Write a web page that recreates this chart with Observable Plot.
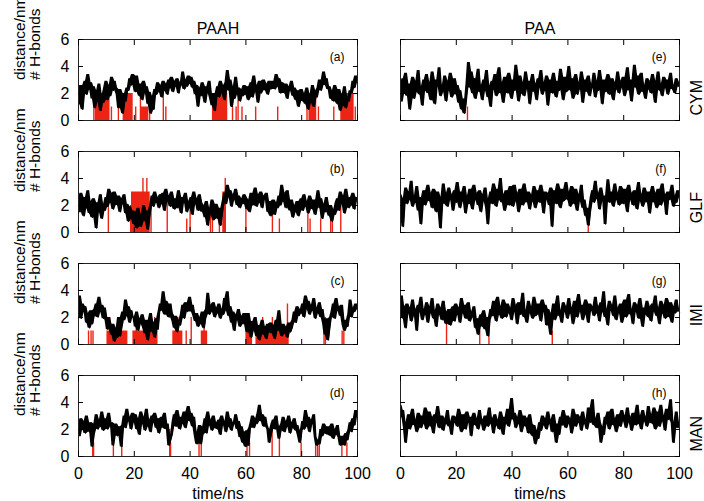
<!DOCTYPE html>
<html><head><meta charset="utf-8">
<script src="https://cdn.jsdelivr.net/npm/d3@7"></script>
<script src="https://cdn.jsdelivr.net/npm/@observablehq/plot@0.6"></script>
<style>body{margin:0;background:#fff;}</style>
</head><body><div id="chart"></div>
<script>
// ---- categories & ticks ----
const systems = ["PAAH", "PAA"];
const ligands = ["CYM", "GLF", "IMI", "MAN"];
const letters = ["(a)", "(b)", "(c)", "(d)", "(e)", "(f)", "(g)", "(h)"];
const xTicks = [0, 20, 40, 60, 80, 100];
const yTicks = [0, 2, 4, 6];
const xLabel = "time/ns";
const yLabel = "distance/nm\n# H-bonds";

// ---- distance series (nm), sampled every 0.5 ns from 0 to 100 ns ----
const distA = [
2.4,1.2,2.6,0.8,2.2,2.9,1.9,3.4,2.3,2.8,1.6,2.5,0.9,2.2,1.4,2.7,0.7,1.9,1.3,2.4,
2.9,1.5,2.6,1.8,3.2,2.2,2.9,2.4,1.9,0.9,2.3,1.2,0.5,2.0,1.4,2.4,2.2,3.1,2.6,3.4,
2.8,2.1,3.3,2.4,1.8,2.7,1.5,2.9,2.0,2.5,1.2,2.1,0.5,1.8,0.8,2.3,1.9,2.8,2.1,2.6,
1.7,2.9,2.2,2.7,1.9,3.0,2.4,3.2,2.1,2.9,2.5,3.1,2.0,2.8,2.6,3.6,2.3,3.0,2.5,3.3,
2.7,3.2,2.4,2.9,1.9,2.6,1.0,2.4,1.8,2.8,2.1,1.3,2.5,2.0,2.9,1.6,1.1,2.0,0.7,1.8,
2.5,1.7,2.9,2.0,2.6,1.5,2.8,3.7,2.2,3.0,1.0,2.5,1.6,3.2,1.9,2.4,1.4,2.3,1.8,2.6,
1.9,2.5,1.5,2.2,2.8,1.7,3.3,2.1,2.6,1.3,2.9,2.0,2.5,3.0,2.2,2.7,1.9,2.9,2.3,2.6,
2.9,2.3,3.4,2.5,3.1,2.0,2.8,2.4,2.0,2.7,1.6,2.5,2.2,2.9,1.8,2.4,1.5,2.2,1.0,1.9,
2.3,1.4,2.0,1.2,2.4,0.8,1.9,1.3,2.6,1.0,2.2,1.7,2.4,3.0,2.2,2.9,3.6,2.6,3.1,2.3,
2.5,1.6,2.2,1.4,2.6,1.8,1.2,2.3,0.7,1.9,1.1,2.5,0.9,1.7,1.4,2.2,2.0,2.9,2.4,3.3,2.8];
const distB = [
2.4,1.5,2.9,2.0,1.2,2.6,1.8,3.1,1.4,2.3,1.1,2.5,1.7,0.3,2.2,1.5,2.8,1.0,2.1,1.6,
2.6,1.9,3.2,2.2,2.9,1.7,3.0,2.4,2.0,2.7,1.5,2.5,2.1,2.8,1.4,2.1,0.8,1.9,1.0,1.6,
0.6,1.5,0.3,1.8,1.0,0.4,1.3,2.0,0.8,1.6,0.2,1.2,2.0,2.7,1.9,3.0,2.2,2.6,1.8,2.8,
2.1,2.9,1.6,3.2,2.3,2.7,1.9,3.0,2.4,1.7,2.5,1.8,3.1,2.0,1.4,2.6,2.2,2.9,1.5,2.3,
1.8,2.6,1.3,3.0,2.1,2.5,1.6,2.8,2.2,1.5,2.0,1.1,2.3,0.5,1.8,1.3,2.4,0.9,1.6,2.1,
1.0,1.8,0.5,1.4,2.3,2.9,2.1,3.5,2.6,3.1,1.9,2.8,2.4,3.2,2.0,2.7,1.8,2.5,2.1,2.8,
2.6,1.7,2.4,1.5,2.9,2.0,2.5,3.3,1.9,2.8,2.2,3.0,1.8,2.7,2.4,2.9,1.5,2.3,1.2,2.1,
2.4,1.3,2.2,1.8,2.7,2.0,3.5,2.3,2.9,1.8,3.1,2.2,1.6,2.4,1.1,2.0,1.5,2.3,1.2,2.1,
2.5,1.6,2.8,1.9,2.3,1.4,2.7,2.0,1.7,2.4,1.3,2.2,3.1,1.8,2.5,1.0,2.1,1.5,2.6,1.7,
1.2,2.0,0.8,1.7,1.3,2.2,2.5,1.6,3.0,2.1,2.7,1.4,3.2,2.3,1.8,2.6,2.0,2.9,1.7,2.4,2.6];
const distC = [
2.2,3.6,1.9,3.0,2.4,2.8,1.6,2.3,1.2,2.5,1.5,2.1,2.6,3.0,2.0,3.5,2.4,2.9,1.9,2.7,
1.8,1.1,2.0,1.3,0.7,1.5,0.2,1.2,0.5,2.0,0.6,1.3,2.4,1.8,3.3,2.1,2.8,1.6,2.5,2.0,
2.0,1.3,2.4,1.0,1.9,1.5,2.2,1.2,0.8,1.8,0.3,1.5,2.3,0.9,1.6,0.5,1.9,1.1,2.4,3.0,
2.5,3.9,2.2,3.2,2.6,2.0,3.0,2.3,1.7,1.2,2.1,0.9,1.8,1.4,2.2,2.9,1.9,3.1,2.4,2.7,
3.5,2.4,2.9,2.1,1.7,2.3,1.3,2.0,1.5,2.4,1.2,1.9,2.6,3.8,2.2,2.9,2.4,3.1,2.0,2.7,
2.3,3.0,1.9,2.6,2.2,3.4,2.5,3.9,2.1,2.8,1.6,2.4,1.0,2.2,1.8,2.6,1.3,2.1,1.5,2.3,
1.9,0.9,2.3,1.2,0.5,1.7,1.0,2.0,0.6,1.4,0.3,1.1,1.8,0.7,1.3,0.4,1.5,0.9,1.6,0.8,
1.4,0.4,1.8,1.0,2.5,1.1,0.6,1.5,0.8,1.3,0.5,1.6,0.9,1.2,1.8,2.4,1.6,2.8,2.1,2.6,
2.3,3.0,2.0,3.6,2.6,3.2,2.2,2.9,2.5,3.4,1.9,2.7,2.3,3.1,2.0,2.6,1.5,0.7,1.9,0.3,
1.2,2.0,2.4,3.0,1.9,3.4,2.5,2.8,2.1,2.9,1.4,1.0,1.8,1.3,2.2,3.3,2.0,2.7,2.4,3.0,2.6];
const distD = [
2.3,1.5,2.8,2.0,2.6,1.7,3.0,2.2,1.8,2.5,0.7,1.6,2.4,3.1,2.0,2.7,2.2,3.3,1.9,2.6,
2.8,2.0,3.2,2.2,2.5,0.8,1.9,2.4,1.5,2.2,1.8,0.7,2.3,3.0,2.1,3.5,2.6,2.9,2.0,3.2,
2.5,3.1,2.0,2.8,1.6,3.3,2.4,2.9,1.9,3.5,2.2,2.7,1.8,3.0,2.5,3.2,2.1,2.8,1.7,2.6,
2.9,2.1,3.2,2.0,2.4,0.8,1.2,1.6,2.5,3.1,2.2,3.4,2.6,2.0,2.9,2.4,3.3,2.1,2.8,3.7,
2.6,3.2,2.2,2.9,1.5,0.9,1.8,2.3,0.9,1.6,2.2,2.8,1.7,3.3,2.3,2.7,1.9,3.0,2.1,2.5,
2.0,2.7,1.6,3.0,2.3,2.6,1.8,3.3,2.2,2.8,1.9,2.5,2.4,3.1,2.0,2.6,1.4,2.2,1.0,1.8,
0.7,1.9,0.8,2.1,2.5,3.0,2.1,2.8,2.4,3.2,3.8,2.6,3.1,2.2,2.9,2.3,2.0,1.0,1.6,2.4,
2.7,2.0,3.0,2.2,1.3,1.9,2.4,2.9,1.8,2.6,2.2,3.0,1.7,2.5,2.1,2.8,1.9,2.3,1.5,1.0,
1.9,2.6,2.0,3.4,2.2,2.9,1.8,2.7,2.4,3.1,1.4,0.8,1.2,0.9,2.0,1.5,2.4,1.7,2.2,1.6,
2.2,1.5,2.4,1.3,2.0,1.6,2.3,1.4,0.8,1.5,1.1,0.8,1.7,1.2,1.9,2.5,1.8,2.8,2.3,3.4,2.9];
const distE = [
2.6,1.4,3.1,2.0,3.5,1.8,2.7,0.8,2.4,3.2,1.6,2.9,2.1,3.7,1.9,2.5,1.1,3.0,2.2,3.4,
2.0,2.8,1.5,3.6,2.3,1.2,3.0,2.5,3.9,1.8,2.6,2.1,3.3,1.4,2.9,2.2,3.5,1.7,2.7,3.1,
1.9,2.6,1.3,2.2,0.8,1.6,0.5,1.4,2.8,4.3,2.4,3.6,2.0,3.1,1.6,2.8,3.8,2.1,2.6,1.5,
3.0,2.2,3.7,1.7,2.6,1.0,2.9,2.3,3.4,1.8,2.5,3.9,2.0,2.8,1.3,3.2,2.4,2.0,3.5,2.6,
1.6,3.0,2.2,4.1,2.5,1.4,3.3,2.0,2.8,1.8,3.6,2.3,2.9,1.2,2.6,3.4,2.1,2.7,1.5,3.1,
2.4,3.7,1.9,2.8,2.2,3.3,1.1,2.6,3.0,2.0,3.5,2.4,1.7,2.9,2.2,3.8,2.5,1.5,3.2,2.1,
2.7,4.0,2.2,3.1,1.6,2.5,3.4,1.9,2.8,2.3,3.6,1.3,2.6,3.0,2.1,3.3,1.8,2.7,2.4,3.5,
1.7,2.9,2.2,3.7,2.5,1.2,3.0,2.1,2.7,3.4,1.9,2.6,3.1,1.5,2.8,2.3,3.6,2.0,2.9,2.4,
3.2,1.8,2.6,3.9,2.2,3.0,1.4,2.7,4.1,2.4,3.3,1.9,2.8,3.5,2.1,2.6,1.6,3.1,2.3,2.9,
2.0,3.4,2.5,1.3,2.9,3.6,2.2,2.7,1.8,3.2,2.4,3.0,1.9,2.8,3.5,2.3,2.6,2.0,3.1,2.5,2.8];
const distF = [
2.8,1.7,0.4,2.5,3.3,2.1,3.0,2.4,3.8,1.9,2.7,2.2,3.4,1.6,2.6,0.6,2.3,3.1,2.0,2.8,
3.5,2.3,2.9,1.8,3.2,2.5,1.5,3.0,2.2,0.3,2.6,3.6,2.1,2.9,1.9,3.3,2.4,2.8,1.6,3.1,
2.2,3.7,2.5,1.8,3.0,2.3,3.4,1.4,2.7,2.1,3.2,2.6,1.7,3.5,2.4,2.9,2.0,3.1,1.5,2.8,
2.3,3.3,1.8,0.6,2.5,3.0,2.1,3.6,2.6,1.9,3.2,2.4,4.0,2.2,2.8,1.6,3.1,2.5,2.0,3.4,
2.7,1.9,3.5,2.3,2.9,1.5,3.2,2.4,2.0,3.6,2.6,2.2,3.0,1.7,2.8,2.3,3.4,1.8,2.6,3.1,
2.2,3.5,2.6,1.4,3.0,2.4,2.9,2.0,3.3,0.4,2.5,3.1,2.1,3.6,2.7,1.8,3.2,2.3,2.8,3.7,
2.4,3.0,1.9,3.4,2.6,2.1,3.2,1.6,2.8,2.3,3.5,1.8,2.4,1.2,1.8,0.5,1.5,2.6,3.1,2.2,
3.8,2.5,2.9,1.7,3.3,2.3,2.7,0.6,2.5,3.9,2.2,3.0,2.6,1.9,3.6,2.4,2.9,2.0,3.4,2.7,
2.1,3.2,2.6,1.5,3.5,2.4,2.9,2.0,3.1,2.5,1.7,3.7,2.3,2.8,1.9,3.3,2.6,2.2,3.0,1.4,
2.7,3.4,2.2,2.9,1.8,3.2,2.5,2.0,3.6,2.3,2.8,1.3,3.0,2.4,2.6,3.5,1.9,2.7,2.2,3.1,2.6];
const distG = [
2.5,3.6,1.9,2.8,1.2,3.0,2.3,2.7,1.7,3.3,2.1,2.6,1.0,2.9,2.4,3.5,1.8,2.6,2.2,3.1,
1.6,2.8,2.3,3.4,1.9,2.5,1.3,3.0,2.2,2.7,1.8,3.2,2.4,1.5,2.0,2.6,1.4,2.1,2.8,1.7,
3.0,2.2,2.7,1.6,3.4,2.3,2.9,1.9,2.5,3.1,1.7,2.4,2.0,2.8,1.2,1.9,0.7,1.6,2.2,1.3,
2.5,1.1,2.0,0.6,1.8,2.6,2.1,3.2,2.4,1.7,3.5,2.2,2.8,1.9,3.3,2.5,2.0,3.0,2.3,2.7,
1.8,3.4,2.4,2.9,1.5,3.1,2.2,2.7,3.8,2.0,2.5,1.6,3.2,2.3,2.8,1.9,3.5,2.1,2.6,3.0,
2.2,1.7,3.3,2.4,2.9,1.4,2.6,2.0,0.7,2.3,3.0,1.8,2.7,3.6,2.1,2.5,1.6,3.1,2.4,2.8,
1.9,3.4,2.3,2.7,1.5,3.2,2.5,2.0,3.7,2.4,2.9,1.8,2.6,3.3,2.2,1.6,3.0,2.5,2.8,2.1,
3.5,2.3,2.8,1.7,3.1,2.4,3.9,2.0,2.6,1.4,3.2,2.5,2.9,2.1,3.6,1.8,2.7,2.3,3.0,1.6,
2.4,3.3,2.0,2.8,3.7,2.2,2.6,1.5,3.1,2.4,2.9,1.9,3.4,2.5,1.3,2.7,2.2,3.2,2.0,2.8,
1.7,3.0,2.4,3.6,2.1,2.7,1.5,3.2,2.3,2.9,1.9,3.4,2.5,2.0,3.1,1.6,2.8,2.3,3.3,2.6,2.4];
const distH = [
3.8,2.9,3.4,2.2,1.0,2.5,3.1,2.0,2.8,3.5,2.3,2.7,1.8,3.2,2.6,2.1,3.0,2.4,3.6,2.0,
2.7,3.3,2.2,2.9,1.7,3.1,2.5,3.7,2.1,2.6,3.0,1.9,2.8,2.4,3.4,2.2,2.6,1.6,3.0,2.5,
2.9,2.2,3.5,2.4,1.8,3.1,2.6,2.0,3.3,2.5,2.9,1.5,2.7,3.2,2.3,2.8,2.0,3.4,2.4,2.7,
1.9,3.0,2.5,2.2,3.6,2.4,2.8,1.7,3.1,2.3,2.7,2.0,3.3,2.6,1.6,2.9,2.4,3.5,2.2,3.0,
4.3,2.7,3.2,2.1,2.9,2.4,3.4,1.8,2.6,3.0,2.2,2.8,1.7,3.1,2.4,1.5,2.3,0.9,1.9,1.3,
2.5,1.9,3.0,2.3,2.8,2.0,3.3,2.4,2.7,1.8,3.1,2.1,1.0,2.4,1.6,2.9,2.3,3.4,2.6,2.1,
3.0,2.4,2.8,1.7,3.5,2.6,2.2,3.1,2.5,2.9,1.9,3.3,2.4,2.7,2.0,3.6,2.5,3.0,4.2,2.3,
2.8,2.1,3.2,2.5,1.0,2.2,1.6,2.9,2.4,3.3,2.0,2.7,3.5,2.3,2.8,1.8,3.1,2.6,2.2,3.4,
2.6,3.0,2.1,3.6,2.5,2.9,1.9,3.2,2.7,2.3,3.8,2.4,3.0,2.0,3.4,2.6,2.9,2.2,3.7,2.5,
3.1,2.4,3.6,2.0,2.9,3.3,2.2,3.8,2.6,3.0,1.9,3.5,2.7,3.2,4.2,2.5,1.0,2.3,3.3,2.1,2.5];

// ---- H-bond counts: dense occupancy blocks [start ns, end ns, count] ----
const hbBlocksA = [[6,11.3,2],[16,19.6,2],[22.5,25.2,1],[48,53.5,2],[82.6,85.4,2],[94,98.8,2]];
const hbBlocksB = [[19,25.7,3],[51.7,53,3]];
const hbBlocksC = [[10.2,17.7,1],[19.5,28.5,1],[33.8,37.4,1],[44,46.3,1],[60,62.4,1],[63.6,75.5,1]];
const hbBlocksD = [];
const hbBlocksE = [];
const hbBlocksF = [];
const hbBlocksG = [];
const hbBlocksH = [];
// ---- H-bond counts: isolated events [time ns, count] ----
const hbSpikesA = [[5.5,2],[11.8,1],[14.3,1],[20.5,1],[22.2,2],[25.5,2],[30.4,2],[31.3,1],[55.2,2],[56.5,1],[57.2,2],[58.6,1],[63.5,1],[71.4,1],[81.9,1],[86,1],[91.5,1],[99.2,1]];
const hbSpikesB = [[10.7,3],[18.7,2],[23.1,4],[24.5,4],[26,2],[31.8,3],[38.8,1],[40,2],[47.3,2],[48,1],[50.5,1],[52.6,4],[60,2],[69.5,2],[72,1],[82.2,2],[83,1],[86.8,1],[90.4,2],[91,1],[94,2]];
const hbSpikesC = [[3.6,1],[4.5,1],[5.2,1],[11.2,2],[14.8,2],[20.7,2],[27.3,2],[35.6,2],[38.6,1],[40.4,2],[45,2],[61.2,2],[66,2],[69.5,2],[74.9,3],[88,1],[88.5,2],[94.5,1],[95.1,1]];
const hbSpikesD = [[5.1,2],[5.4,1],[12.5,2],[15.5,2],[32.7,2],[33,1],[43.2,1],[44,1],[60.4,1],[61.3,1],[69.4,2],[72,2],[79.8,1],[85,1],[85.7,1],[86.3,1],[94.4,1],[96.2,1]];
const hbSpikesE = [[24,1]];
const hbSpikesF = [[67.3,1]];
const hbSpikesG = [[16.5,2],[28.4,1],[31.7,1],[54.4,1]];
const hbSpikesH = [];

// ---- assemble tidy tables ----
const panels = [
  ["PAAH","CYM",distA,hbBlocksA,hbSpikesA],
  ["PAAH","GLF",distB,hbBlocksB,hbSpikesB],
  ["PAAH","IMI",distC,hbBlocksC,hbSpikesC],
  ["PAAH","MAN",distD,hbBlocksD,hbSpikesD],
  ["PAA","CYM",distE,hbBlocksE,hbSpikesE],
  ["PAA","GLF",distF,hbBlocksF,hbSpikesF],
  ["PAA","IMI",distG,hbBlocksG,hbSpikesG],
  ["PAA","MAN",distH,hbBlocksH,hbSpikesH]
].map(([sys, lig, dist, blocks, spikes], k) => ({sys, lig, dist, blocks, spikes, letter: letters[k]}));

const lineData = panels.flatMap(p => p.dist.map((d, i) => ({sys: p.sys, lig: p.lig, t: i * 100 / (p.dist.length - 1), d})));
const blockData = panels.flatMap(p => p.blocks.map(([t1, t2, v]) => ({sys: p.sys, lig: p.lig, t1, t2, v})));
const spikeData = panels.flatMap(p => p.spikes.map(([t, v]) => ({sys: p.sys, lig: p.lig, t, v})));
const letterData = panels.map(p => ({sys: p.sys, lig: p.lig, letter: p.letter}));
const titleData = systems.map(s => ({sys: s, lig: ligands[0]}));
const rowLabelData = ligands.map(l => ({sys: systems[1], lig: l}));
const yLabelData = ligands.map(l => ({sys: systems[0], lig: l}));
const xLabelData = systems.map(s => ({sys: s, lig: ligands[ligands.length - 1]}));

const RED = "#ec2415";
const FONT = "'Liberation Sans', Arial, Helvetica, sans-serif";
const noText = () => "";

const chart = Plot.plot({
  width: 704,
  height: 501,
  marginLeft: 78,
  marginRight: 24,
  marginTop: 39,
  marginBottom: 45,
  style: {fontFamily: FONT, fontSize: "16px", background: "#fff", color: "#000", overflow: "visible"},
  x: {domain: [0, 100], axis: null},
  y: {domain: [0, 6], axis: null},
  fx: {domain: systems, paddingInner: 0.1333, paddingOuter: 0, axis: null},
  fy: {domain: ligands, paddingInner: 0.2768, paddingOuter: 0, axis: null},
  marks: [
    Plot.rect(blockData, {fx: "sys", fy: "lig", x1: "t1", x2: "t2", y1: 0, y2: "v", fill: RED}),
    Plot.ruleX(spikeData, {fx: "sys", fy: "lig", x: "t", y1: 0, y2: "v", stroke: RED, strokeWidth: 1.4}),
    // the dense trace: fill between the local extremes of neighbouring samples, then the trace itself
    Plot.areaY(lineData, Plot.map(
      {y1: Plot.window({k: 3, reduce: "min"}), y2: Plot.window({k: 3, reduce: "max"})},
      {fx: "sys", fy: "lig", x: "t", y1: "d", y2: "d", fill: "#000"})),
    Plot.line(lineData, {fx: "sys", fy: "lig", x: "t", y: "d", stroke: "#000", strokeWidth: 1}),
    Plot.frame({stroke: "#222", strokeWidth: 1}),
    // inward ticks on all four sides
    Plot.axisX({anchor: "bottom", ticks: xTicks, tickSize: 5, dy: -5, tickFormat: noText, label: null, facetAnchor: null}),
    Plot.axisX({anchor: "top", ticks: xTicks, tickSize: 5, dy: 5, tickFormat: noText, label: null, facetAnchor: null}),
    Plot.axisY({anchor: "left", ticks: yTicks, tickSize: 5, dx: 5, tickFormat: noText, label: null, facetAnchor: null}),
    Plot.axisY({anchor: "right", ticks: yTicks, tickSize: 5, dx: -5, tickFormat: noText, label: null, facetAnchor: null}),
    // tick labels
    Plot.axisX({anchor: "bottom", ticks: xTicks, tickSize: 0, tickPadding: 11, tickFormat: d => String(d), label: null, fontSize: 16}),
    Plot.axisY({anchor: "left", ticks: yTicks, tickSize: 0, tickPadding: 9, tickFormat: d => String(d), label: null, fontSize: 16}),
    // panel letters
    Plot.text(letterData, {fx: "sys", fy: "lig", text: "letter", frameAnchor: "top-right", textAnchor: "end", dx: -13, dy: 13, fontSize: 12}),
    // column titles
    Plot.text(titleData, {fx: "sys", fy: "lig", text: "sys", frameAnchor: "top", dy: -16.5, fontSize: 16}),
    // row labels on the right
    Plot.text(rowLabelData, {fx: "sys", fy: "lig", text: "lig", frameAnchor: "right", dx: 17, rotate: -90, fontSize: 16}),
    // y axis labels
    Plot.text(yLabelData, {fx: "sys", fy: "lig", text: () => yLabel, frameAnchor: "left", dx: -51, rotate: -90, lineHeight: 1.0, fontSize: 15.5}),
    // x axis labels
    Plot.text(xLabelData, {fx: "sys", fy: "lig", text: () => xLabel, frameAnchor: "bottom", dy: 31, lineAnchor: "top", fontSize: 16})
  ]
});
document.getElementById("chart").append(chart);
</script>
</body></html>
